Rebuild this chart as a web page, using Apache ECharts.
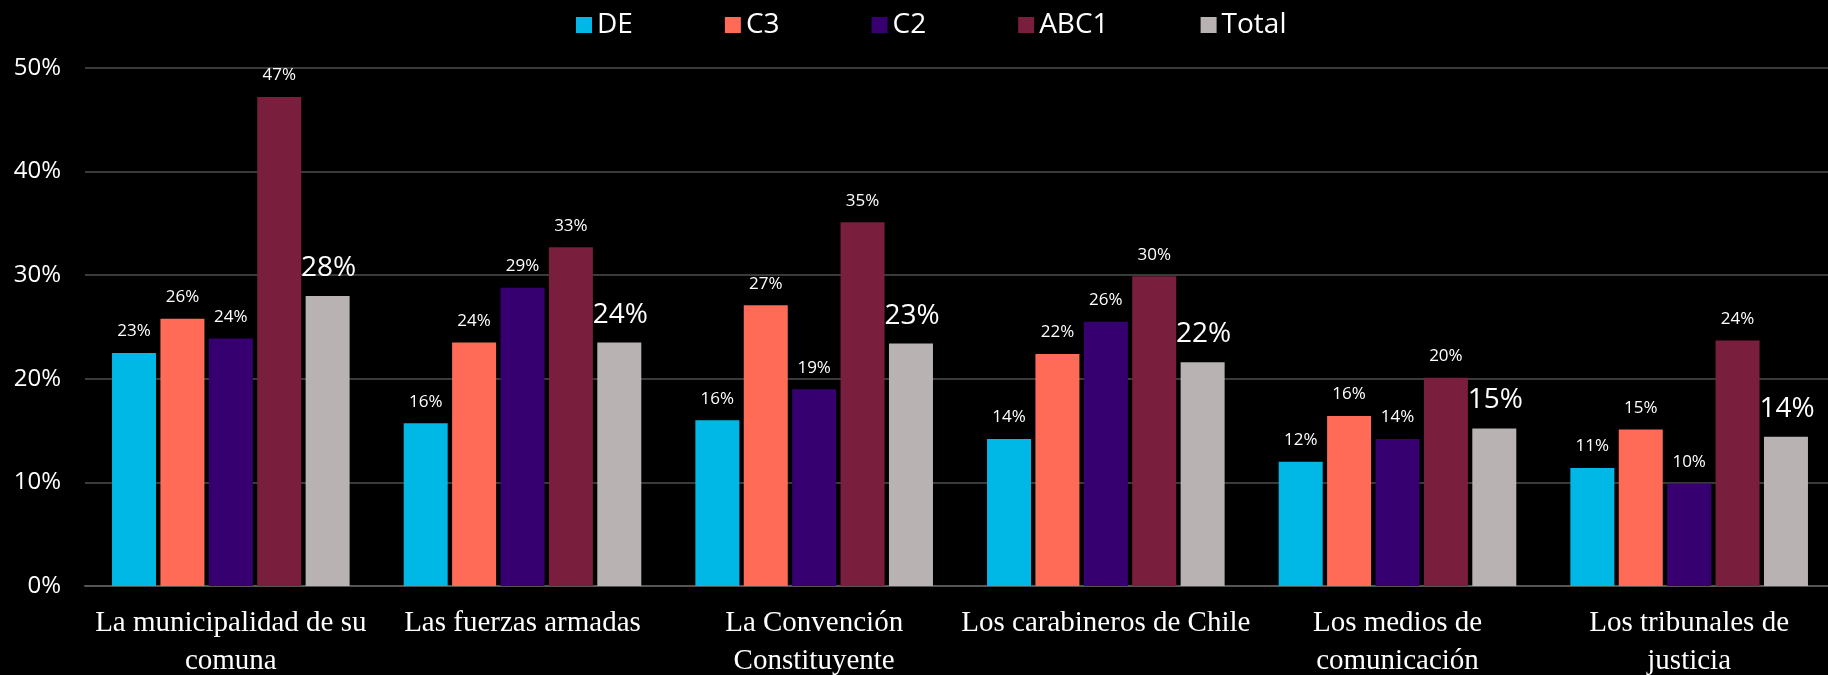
<!DOCTYPE html>
<html>
<head>
<meta charset="utf-8">
<title>Confianza por GSE</title>
<script src="https://cdn.jsdelivr.net/npm/echarts@6/dist/echarts.min.js"></script>
<style>
    html, body { margin: 0; padding: 0; background: #000; }
    #main { width: 1828px; height: 675px; }
</style>
</head>
<body>
<div id="main"></div>
<script>
// ------------------------------ 数据 -----------------------------------------
var categories = [
    'La municipalidad de su\ncomuna',
    'Las fuerzas armadas',
    'La Convención\nConstituyente',
    'Los carabineros de Chile',
    'Los medios de\ncomunicación',
    'Los tribunales de\njusticia'
];
var seriesNames = ['DE', 'C3', 'C2', 'ABC1', 'Total'];
var deValues    = [22.5, 15.7, 16.0, 14.2, 12.0, 11.4];
var c3Values    = [25.8, 23.5, 27.1, 22.4, 16.4, 15.1];
var c2Values    = [23.9, 28.8, 19.0, 25.5, 14.2, 9.9];
var abc1Values  = [47.2, 32.7, 35.1, 29.9, 20.1, 23.7];
var totalValues = [28.0, 23.5, 23.4, 21.6, 15.2, 14.4];
var yTicks = [0, 10, 20, 30, 40, 50];

var colors = ['#00B8E6', '#FF6B57', '#360070', '#7A1E3E', '#B8B2B2'];
var sansFont = '"Open Sans", Lato, sans-serif';

var chartDom = document.getElementById('main');
var myChart = echarts.init(chartDom);
var option;

function makeSeries(idx, values) {
    var isTotal = (idx == 4);
    return {
        name: seriesNames[idx],
        type: 'bar',
        data: values,
        barWidth: 44,
        barGap: '10%',
        itemStyle: { color: colors[idx] },
        label: {
            show: true,
            position: 'top',
            distance: isTotal ? 14 : 13,
            color: '#fff',
            fontFamily: sansFont,
            fontSize: isTotal ? 28 : 17,
            offset: isTotal ? [1, 0] : [0, 0],
            formatter: function (p) { return Math.round(p.value) + '%'; }
        }
    };
}

option = {
    backgroundColor: '#000',
    animation: false,
    color: colors,
    legend: {
        data: seriesNames,
        left: 571,
        top: 6,
        itemWidth: 16,
        itemHeight: 16,
        itemGap: 92,
        icon: 'rect',
        textStyle: { color: '#fff', fontSize: 28, fontFamily: sansFont }
    },
    // v6 默认会把坐标轴标签挤进画布，这里关掉
    grid: { left: 85, right: -7, top: 68, bottom: 89, containLabel: false, outerBoundsMode: 'none' },
    xAxis: {
        type: 'category',
        data: categories,
        axisTick: { show: false },
        axisLine: { lineStyle: { color: '#555', width: 2 } },
        axisLabel: {
            color: '#fff',
            fontFamily: '"Liberation Serif", serif',
            fontSize: 29,
            lineHeight: 38,
            margin: 18,
            interval: 0
        }
    },
    yAxis: {
        type: 'value',
        min: yTicks[0],
        max: yTicks[yTicks.length - 1],
        interval: 10,
        axisLine: { show: false },
        axisTick: { show: false },
        splitLine: { lineStyle: { color: '#3a3a3a', width: 2 } },
        axisLabel: {
            color: '#fff',
            fontFamily: sansFont,
            fontSize: 24,
            margin: 24,
            formatter: '{value}%'
        }
    },
    series: [
        makeSeries(0, deValues),
        makeSeries(1, c3Values),
        makeSeries(2, c2Values),
        makeSeries(3, abc1Values),
        makeSeries(4, totalValues)
    ]
};

option && myChart.setOption(option);
</script>
</body>
</html>
